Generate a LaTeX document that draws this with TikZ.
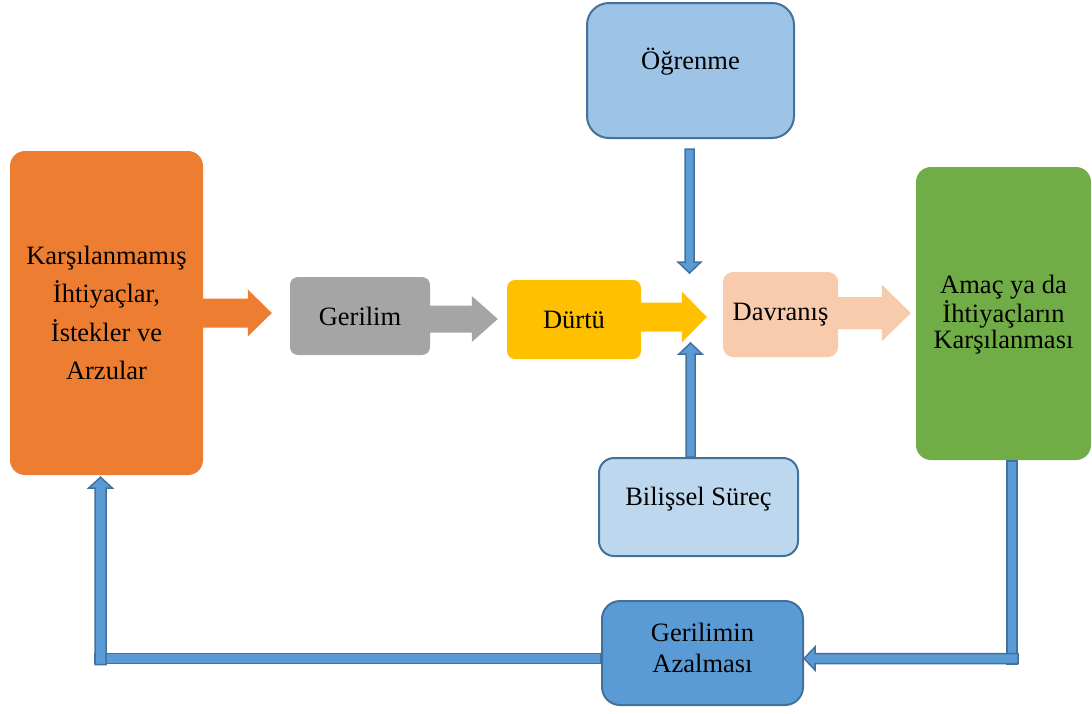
\documentclass[tikz,border=0pt]{standalone}
\usepackage{fontspec}
\setmainfont{Liberation Serif}
\usetikzlibrary{calc}

\definecolor{cOrange}{HTML}{ED7D31}
\definecolor{cGray}{HTML}{A5A5A5}
\definecolor{cYellow}{HTML}{FFC000}
\definecolor{cPeach}{HTML}{F8CBAD}
\definecolor{cGreen}{HTML}{70AD47}
\definecolor{cSky}{HTML}{9DC3E6}
\definecolor{cPale}{HTML}{BDD7EE}
\definecolor{cBlue}{HTML}{5B9BD5}
\definecolor{cEdge}{HTML}{41719C}

% block arrow: style, start, tip, shaft half width, head half width, head length
\newcommand\blockarr[6]{%
  \coordinate (ba-h) at ($(#3)!#6!(#2)$);
  \path[#1] ($(#2)!#4!90:(#3)$) -- ($(ba-h)!#4!90:(#3)$) -- ($(ba-h)!#5!90:(#3)$)
    -- (#3) -- ($(ba-h)!#5!-90:(#3)$) -- ($(ba-h)!#4!-90:(#3)$) -- ($(#2)!#4!-90:(#3)$) -- cycle;
}
% plain bar: style, start, end, half width
\newcommand\blockshaft[4]{%
  \path[#1] ($(#2)!#4!90:(#3)$) -- ($(#3)!#4!-90:(#2)$) -- ($(#3)!#4!90:(#2)$)
    -- ($(#2)!#4!-90:(#3)$) -- cycle;
}

\begin{document}
\begin{tikzpicture}[x=1pt,y=-1pt,
  box/.style={inner sep=0pt, align=center, text=black,
    font=\fontsize{26.5}{31}\selectfont},
  outlined/.style={draw=cEdge, line width=2pt},
  bluearrow/.style={fill=cBlue, draw=cEdge, line width=1.5pt, line join=miter},
]
\useasboundingbox (0,0) rectangle (1092,713);

% main chain of boxes
\node[box, fill=cOrange, minimum width=193pt, minimum height=324pt, rounded corners=15pt,
      font=\fontsize{26.5}{38.5}\selectfont] (ora) at (106.5,313)
  {Karşılanmamış\\İhtiyaçlar,\\İstekler ve\\Arzular};
\node[box, fill=cGray, minimum width=140pt, minimum height=78pt, rounded corners=8pt] (gry) at (360,316) {Gerilim};
\node[box, fill=cYellow, minimum width=134pt, minimum height=79pt, rounded corners=8pt] (yel) at (574,319.5) {Dürtü};
\node[box, fill=cPeach, minimum width=115pt, minimum height=85pt, rounded corners=10pt] (pch) at (780.5,314.5) {Davranış};
\node[box, fill=cGreen, minimum width=175pt, minimum height=293pt, rounded corners=15pt,
      font=\fontsize{26.5}{26.5}\selectfont, text depth=3pt] (grn) at (1003.5,313.5)
  {Amaç ya da\\İhtiyaçların\\Karşılanması};

% influences and feedback boxes
\node[box, outlined, fill=cSky, minimum width=207pt, minimum height=135pt, rounded corners=22pt,
      text depth=23.5pt] (ogr) at (690.5,70.5) {Öğrenme};
\node[box, outlined, fill=cPale, minimum width=199pt, minimum height=98pt, rounded corners=15pt,
      text depth=21.5pt] (bil) at (698.5,507) {Bilişsel Süreç};
\node[box, outlined, fill=cBlue, minimum width=201pt, minimum height=104pt, rounded corners=18pt,
      text depth=11pt] (gaz) at (702.5,653) {Gerilimin\\Azalması};

% wide arrows along the chain
\path (gry.west |- ora.east) ++(-18,0) coordinate (t1);
\blockarr{fill=cOrange}{ora.east}{t1}{14.5pt}{23.5pt}{24pt}
\path (yel.west |- gry.east) ++(-9,3) coordinate (t2);
\path (gry.east) ++(0,3) coordinate (s2);
\blockarr{fill=cGray}{s2}{t2}{13.5pt}{23pt}{26pt}
\path (pch.west |- yel.east) ++(-16,-2.5) coordinate (t3);
\path (yel.east) ++(0,-2.5) coordinate (s3);
\blockarr{fill=cYellow}{s3}{t3}{14.5pt}{25.5pt}{25pt}
\path (grn.west |- pch.east) ++(-5,-1.5) coordinate (t4);
\path (pch.east) ++(0,-1.5) coordinate (s4);
\blockarr{fill=cPeach}{s4}{t4}{16pt}{28.5pt}{29pt}

% learning and cognition acting on the drive
\path (ogr.south) ++(-1,10) coordinate (d1);
\path (d1) ++(0,124) coordinate (d2);
\blockarr{bluearrow}{d1}{d2}{4.5pt}{11.5pt}{11pt}
\path (bil.north) ++(-8,0) coordinate (u1);
\path (u1) ++(0,-114) coordinate (u2);
\blockarr{bluearrow}{u1}{u2}{4.5pt}{11.5pt}{11pt}

% feedback loop: goal -> tension reduction -> needs
\path (grn.south) ++(8.5,1) coordinate (r1);
\path (gaz.east) ++(0,5.5) coordinate (gzr);
\coordinate (r2) at (r1 |- gzr);
\path (r2) ++(0,5.5) coordinate (r2b);
\path (r2) ++(6,0) coordinate (r2c);
\blockshaft{bluearrow}{r1}{r2b}{5pt}
\blockarr{bluearrow}{r2c}{gzr}{5pt}{11.5pt}{11pt}

\path (gaz.west) ++(0,5.5) coordinate (gzl);
\path (ora.south) ++(-6,2) coordinate (l1);
\coordinate (l2) at (l1 |- gzl);
\path (l2) ++(-5.5,0) coordinate (l2b);
\path (l2) ++(0,6) coordinate (l2c);
\blockshaft{bluearrow}{gzl}{l2b}{5pt}
\blockarr{bluearrow}{l2c}{l1}{5.5pt}{12pt}{11pt}
\end{tikzpicture}
\end{document}
